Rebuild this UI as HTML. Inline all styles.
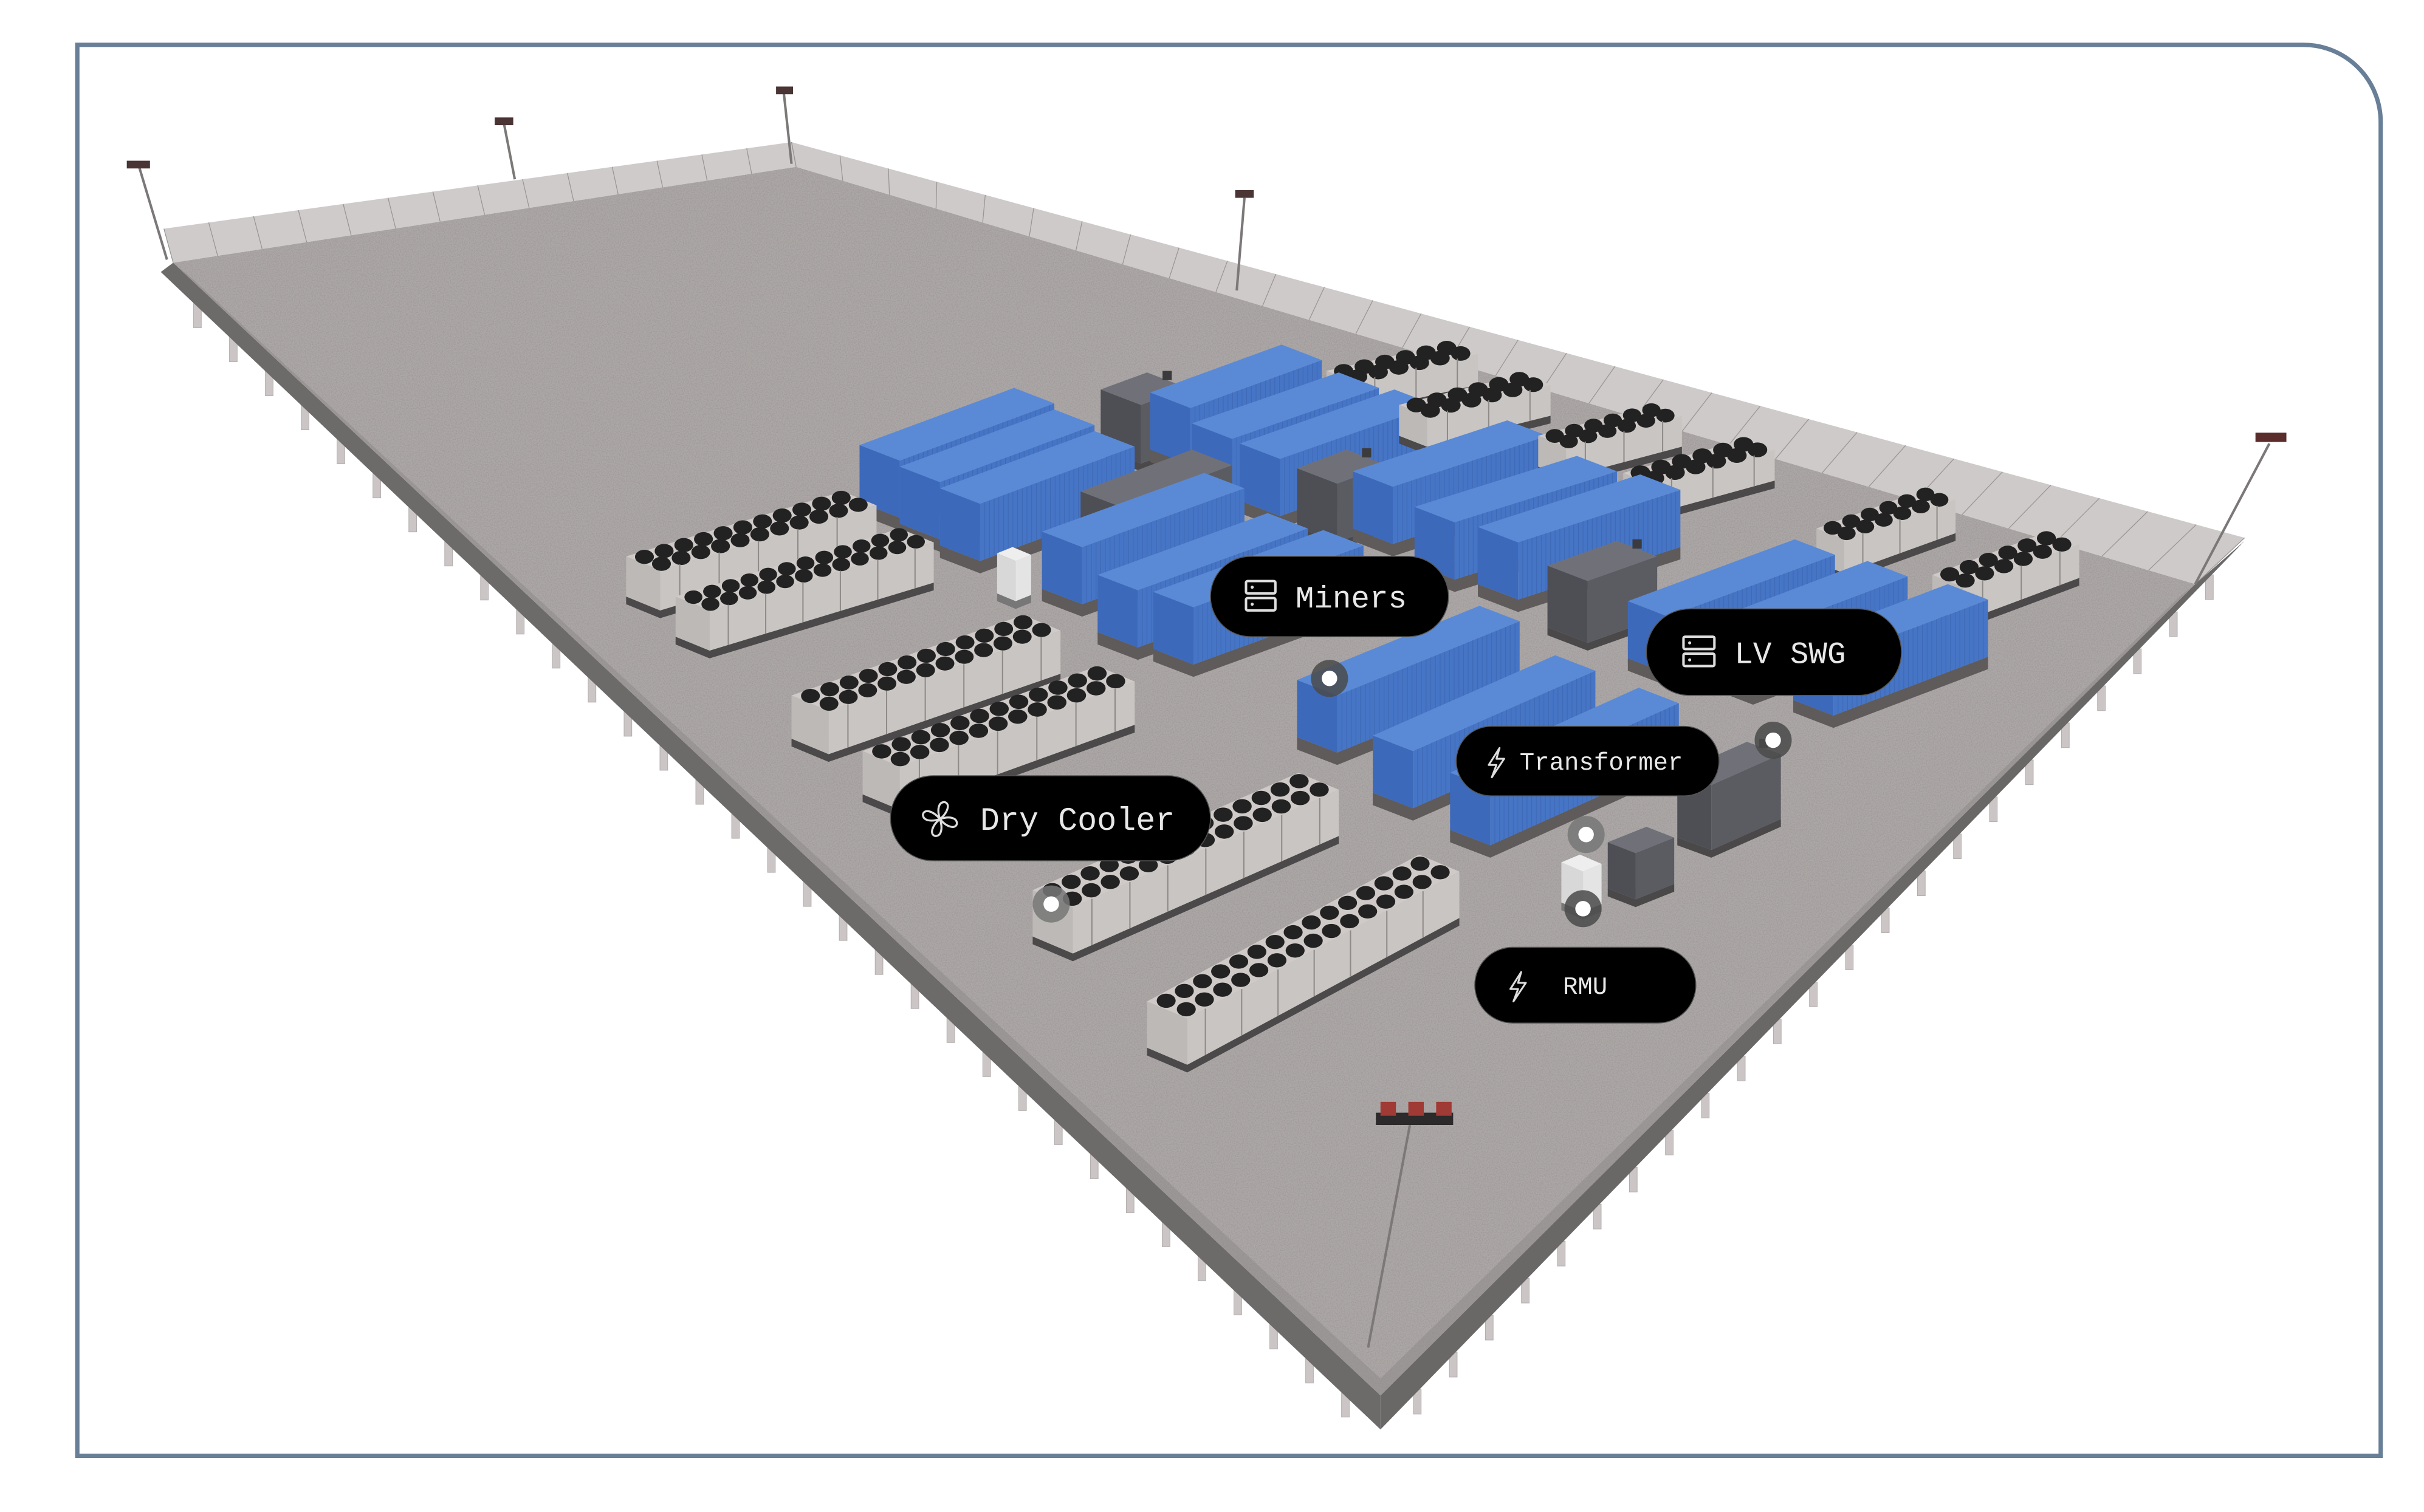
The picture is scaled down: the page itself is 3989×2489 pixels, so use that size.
<!DOCTYPE html>
<html><head><meta charset="utf-8">
<style>
html,body{margin:0;padding:0;background:#fff;}
svg{display:block;}
.lbl{font-family:"Liberation Mono",monospace;fill:#e8e8e8;}
</style></head>
<body>
<svg id="s" xmlns="http://www.w3.org/2000/svg" width="3989" height="2489" viewBox="0 0 1568 978.4">
<defs>
<filter id="noise" x="0" y="0" width="100%" height="100%">
<feTurbulence type="fractalNoise" baseFrequency="1.3" numOctaves="2" seed="3"/>
<feColorMatrix type="matrix" values="0 0 0 0 0.3  0 0 0 0 0.29  0 0 0 0 0.29  0 0 0 3 -1.2"/>
</filter>
<clipPath id="floorclip"><polygon points="112,170 515,108 1420,378 893,903"/></clipPath>
</defs>
<rect width="1568" height="978.4" fill="#fff"/>
<path d="M50,29 H1490 A50,50 0 0 1 1540,79 V942 H50 Z" fill="none" stroke="#687f97" stroke-width="2.8"/>

<polygon points="106,148 512,92 515,108 112,170" fill="#bfbaba" opacity="0.75"/>
<polygon points="512,92 1452,348 1420,378 515,108" fill="#c2bdbc" opacity="0.8"/>
<g id="fencelines" stroke="#9a9594" stroke-width="0.5"></g>

<g id="piers" fill="#cbc6c5" stroke="#b3aeae" stroke-width="0.4"></g>
<polygon points="112,170 893,903 893,925 104,176" fill="#6d6a6a"/>
<polygon points="893,903 1420,378 1452,350 893,925" fill="#6a6767"/>
<polygon points="112,170 515,108 1420,378 893,903" fill="#aca7a6"/>
<rect x="100" y="90" width="1360" height="820" filter="url(#noise)" clip-path="url(#floorclip)" opacity="0.5"/>
<polygon points="893,903 1420,378 1410,386 893,892 124,180 112,170" fill="#8c8888" opacity="0.5"/>

<g stroke="#7c7878" stroke-width="1.6" fill="none">
<line x1="90" y1="108" x2="108" y2="168"/>
<line x1="326" y1="80" x2="333" y2="116"/>
<line x1="507" y1="60" x2="512" y2="106"/>
<line x1="805" y1="128" x2="800" y2="188"/>
<line x1="1468" y1="287" x2="1420" y2="378"/>
<line x1="912" y1="728" x2="885" y2="872"/>
</g>
<g fill="#4b3434">
<rect x="82" y="104" width="15" height="5"/><rect x="320" y="76" width="12" height="5"/>
<rect x="502" y="56" width="11" height="5"/><rect x="799" y="123" width="12" height="5"/>
<rect x="1459" y="280" width="20" height="6" fill="#5a2c2c"/>
<rect x="890" y="720" width="50" height="8" fill="#2c2a2a"/>
<rect x="893" y="713" width="10" height="9" fill="#a03a34"/><rect x="911" y="713" width="10" height="9" fill="#a03a34"/><rect x="929" y="713" width="10" height="9" fill="#a03a34"/>
</g>

<g id="objs"></g>

<g>
<circle cx="860" cy="439" r="12" fill="#4a4a4a" opacity="0.85"/><circle cx="860" cy="439" r="5" fill="#fff"/>
<circle cx="1147" cy="479" r="12" fill="#4a4a4a" opacity="0.85"/><circle cx="1147" cy="479" r="5" fill="#fff"/>
<circle cx="1026" cy="540" r="12" fill="#777" opacity="0.85"/><circle cx="1026" cy="540" r="5" fill="#fff"/>
<circle cx="1024" cy="588" r="12" fill="#4a4a4a" opacity="0.85"/><circle cx="1024" cy="588" r="5" fill="#fff"/>
<circle cx="680" cy="585" r="12" fill="#777" opacity="0.85"/><circle cx="680" cy="585" r="5" fill="#fff"/>
</g>

<g>
<rect x="783" y="360" width="154" height="52" rx="26" fill="#000" stroke="#555" stroke-width="0.6"/>
<g fill="none" stroke="#ddd" stroke-width="1.6"><rect x="806" y="376" width="19" height="8" rx="1"/><rect x="806" y="387" width="19" height="8" rx="1"/></g>
<circle cx="810" cy="380" r="1" fill="#ddd"/><circle cx="810" cy="391" r="1" fill="#ddd"/>
<text class="lbl" x="838" y="393" font-size="20">Miners</text>

<rect x="1065" y="394" width="165" height="56" rx="28" fill="#000" stroke="#555" stroke-width="0.6"/>
<g fill="none" stroke="#ddd" stroke-width="1.6"><rect x="1089" y="412" width="20" height="8" rx="1"/><rect x="1089" y="423" width="20" height="8" rx="1"/></g>
<circle cx="1093" cy="416" r="1" fill="#ddd"/><circle cx="1093" cy="427" r="1" fill="#ddd"/>
<text class="lbl" x="1122" y="429" font-size="20">LV SWG</text>

<rect x="942" y="470" width="170" height="45" rx="22.5" fill="#000" stroke="#555" stroke-width="0.6"/>
<path d="M970,484 L963,495 L968,495 L965,503 L973,491 L968,491 Z" fill="none" stroke="#ddd" stroke-width="1.2" stroke-linejoin="round"/>
<text class="lbl" x="983" y="498" font-size="16">Transformer</text>

<rect x="576" y="502" width="207" height="55" rx="27.5" fill="#000" stroke="#555" stroke-width="0.6"/>
<g fill="none" stroke="#ddd" stroke-width="1.3" transform="translate(608,530)">
<path d="M0,0 C-2,-6 -1,-11 3,-11 C7,-10 5,-4 0,0"/>
<path d="M0,0 C6,-2 11,-1 11,3 C10,7 4,5 0,0"/>
<path d="M0,0 C2,6 1,11 -3,11 C-7,10 -5,4 0,0"/>
<path d="M0,0 C-6,2 -11,1 -11,-3 C-10,-7 -4,-5 0,0"/>
</g>
<text class="lbl" x="634" y="537" font-size="21">Dry Cooler</text>

<rect x="954" y="613" width="143" height="49" rx="24.5" fill="#000" stroke="#555" stroke-width="0.6"/>
<path d="M984,629 L977,640 L982,640 L979,648 L987,636 L982,636 Z" fill="none" stroke="#ddd" stroke-width="1.2" stroke-linejoin="round"/>
<text class="lbl" x="1011" y="643" font-size="16">RMU</text>
</g>
</svg>
<script>
(function(){
var NS="http://www.w3.org/2000/svg";
function el(p,t,a){var e=document.createElementNS(NS,t);for(var k in a)e.setAttribute(k,a[k]);p.appendChild(e);return e;}
function pts(a){return a.map(function(p){return p[0].toFixed(1)+","+p[1].toFixed(1);}).join(" ");}
var fl=document.getElementById("fencelines");
for(var i=0;i<=14;i++){var t=i/14;var x1=106+(512-106)*t,y1=148+(92-148)*t,x2=112+(515-112)*t,y2=170+(108-170)*t;el(fl,"line",{x1:x1,y1:y1,x2:x2,y2:y2});}
for(var i=0;i<=30;i++){var t=i/30;var x1=512+(1452-512)*t,y1=92+(348-92)*t,x2=515+(1420-515)*t,y2=108+(378-108)*t;el(fl,"line",{x1:x1,y1:y1,x2:x2,y2:y2});}
var pr=document.getElementById("piers");
for(var i=1;i<34;i++){var t=i/34;var x=104+(893-104)*t,y=176+(925-176)*t;el(pr,"rect",{x:x-2,y:y-2,width:5,height:16});}
for(var i=1;i<24;i++){var t=i/24;var x=893+(1452-893)*t,y=925+(350-925)*t;el(pr,"rect",{x:x-2,y:y-2,width:5,height:16});}
var g=document.getElementById("objs");
var items=[];
function C(x,y,ax,ay,kind,o){o=o||{};items.push({x:x,y:y,ax:ax,ay:ay,kind:kind,o:o});}
var A=[100,-37];
[[556,288],[582,302],[608,316]].forEach(function(p){C(p[0],p[1],A[0],A[1],"blue");});
[[744,254,85,-31],[771,274,95,-33],[802,287,100,-35]].forEach(function(p){C(p[0],p[1],p[2],p[3],"blue");});
[[875,305,100,-33],[915,328,105,-33],[956,341,105,-34]].forEach(function(p){C(p[0],p[1],p[2],p[3],"blue");});
[[674,344,105,-38],[710,372,110,-40],[746,383,110,-40]].forEach(function(p){C(p[0],p[1],p[2],p[3],"blue");});
[[1053,389,108,-40],[1108,401,100,-38],[1160,416,100,-38]].forEach(function(p){C(p[0],p[1],p[2],p[3],"blue");});
[[839,440,118,-48],[888,476,118,-52],[938,500,122,-55]].forEach(function(p){C(p[0],p[1],p[2],p[3],"blue");});
C(712,252,30,-11,"dark",{h:38});C(839,303,32,-12,"dark",{h:38});C(1001,366,45,-16,"dark",{h:40});
C(699,318,72,-27,"dark",{h:16});C(1085,500,45,-20,"dark",{h:42,b:[22,8]});
C(1040,545,25,-10,"dark",{h:30,b:[18,7]});
C(645,358,10,-4,"white",{h:26,b:[12,5]});C(1010,558,12,-5,"white",{h:26,b:[14,6]});
C(405,360,140,-42,"cool",{b:[22,9],h:26});C(437,386,145,-44,"cool",{b:[22,9],h:26});
C(512,450,150,-52,"cool",{b:[24,10],h:28});C(558,486,152,-55,"cool",{b:[24,10],h:28});
C(668,576,172,-76,"cool",{b:[26,11],h:30});C(742,648,176,-95,"cool",{b:[26,11],h:30});
C(858,240,80,-18,"cool",{b:[18,7],h:20});C(905,262,80,-20,"cool",{b:[18,7],h:20});
C(995,282,75,-20,"cool",{b:[18,7],h:20});C(1050,306,80,-22,"cool",{b:[18,7],h:20});
C(1175,342,72,-26,"cool",{b:[18,7],h:22});C(1250,372,75,-28,"cool",{b:[20,8],h:22});
items.sort(function(p,q){return (p.y+0.37*p.x)-(q.y+0.37*q.x);});
function add(P,v){return [P[0]+v[0],P[1]+v[1]];}
items.forEach(function(it){
 var o=it.o,a=[it.ax,it.ay];
 var b=o.b||[26,10];
 var h=o.h||(it.kind=="blue"?37:22);
 var P0=[it.x,it.y],P1=add(P0,b),P2=add(P1,a),P3=add(P0,a);
 var D=[0,h];
 var col;
 if(it.kind=="blue")col={top:"#5a8ad6",end:"#3d69bb",side:"#4675c6",base:"#5e5b5a"};
 else if(it.kind=="dark")col={top:"#707178",end:"#4e4f55",side:"#5b5c62",base:"#4a4848"};
 else if(it.kind=="white")col={top:"#eeeeee",end:"#d8d8d8",side:"#e4e4e4",base:"#777"};
 else col={top:"#cfcac8",end:"#bdb9b7",side:"#c9c5c3",base:"#4b4949"};
 var ph=(it.kind=="blue")?8:5;
 var B0=add(P0,D),B1=add(P1,D),B2=add(P2,D);
 el(g,"polygon",{points:pts([B0,B1,B2,add(B2,[0,ph]),add(B1,[0,ph]),add(B0,[0,ph])]),fill:col.base});
 el(g,"polygon",{points:pts([P0,P1,add(P1,D),add(P0,D)]),fill:col.end});
 el(g,"polygon",{points:pts([P1,P2,add(P2,D),add(P1,D)]),fill:col.side});
 el(g,"polygon",{points:pts([P0,P3,P2,P1]),fill:col.top});
 if(it.kind=="blue"){
  var n=Math.round(Math.abs(a[0])/3);
  var s="";
  for(var i=1;i<n;i++){var t=i/n;var X=P1[0]+a[0]*t,Y=P1[1]+a[1]*t;s+="M"+X.toFixed(1)+","+Y.toFixed(1)+"v"+h+" ";}
  el(g,"path",{d:s,stroke:"#3a63ae",fill:"none","stroke-width":"0.5",opacity:"0.6"});
 }
 if(it.kind=="dark"&&h>30){
  var Q=add(P3,[b[0]*0.5,b[1]*0.5]);
  el(g,"rect",{x:Q[0]-3,y:Q[1]-6,width:6,height:6,fill:"#3b3b3e"});
 }
 if(it.kind=="cool"){
  var L=Math.sqrt(a[0]*a[0]+a[1]*a[1]);var n=Math.max(4,Math.round(L/13));
  var bl=Math.sqrt(b[0]*b[0]+b[1]*b[1]);
  var r=Math.min(L/n*0.46,bl*0.28+2);
  for(var i=0;i<n;i++){for(var j=0;j<2;j++){
   var t=(i+0.5)/n,u=(j+0.5)/2;
   var X=P0[0]+a[0]*t+b[0]*u,Y=P0[1]+a[1]*t+b[1]*u;
   el(g,"ellipse",{cx:X,cy:Y,rx:r,ry:r*0.75,fill:"#222"});
  }}
  var s="";
  for(var i=1;i<n;i+=2){var t=i/n;var X=P1[0]+a[0]*t,Y=P1[1]+a[1]*t;s+="M"+X.toFixed(1)+","+Y.toFixed(1)+"v"+h+" ";}
  el(g,"path",{d:s,stroke:"#8e8a88",fill:"none","stroke-width":"0.8"});
 }
});
})();
</script>
</body></html>
